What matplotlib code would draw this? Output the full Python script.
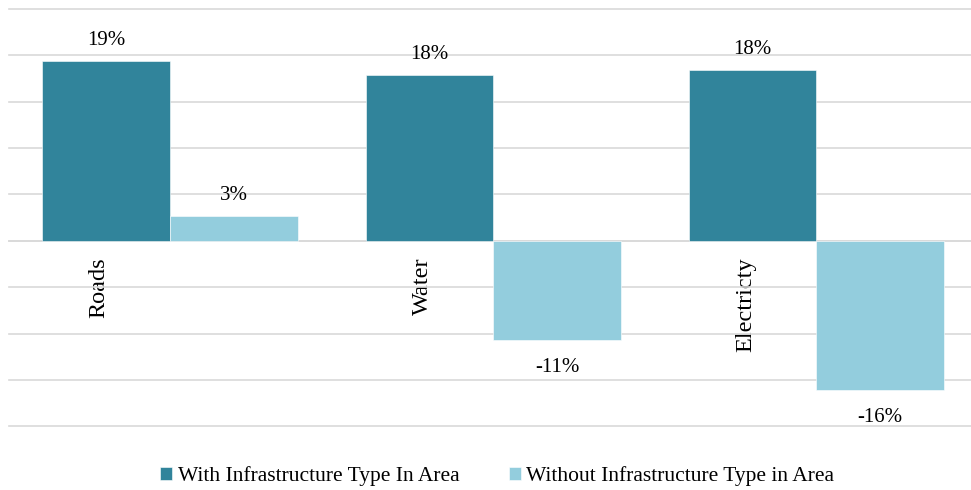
import numpy as np
import matplotlib
matplotlib.use('Agg')
import matplotlib.pyplot as plt

plt.rcParams['font.family'] = ['Liberation Serif', 'DejaVu Serif']

categories = ['Roads', 'Water', 'Electricty']
with_infra = [0.194, 0.179, 0.184]
without_infra = [0.027, -0.107, -0.161]
series_names = ['With Infrastructure Type In Area', 'Without Infrastructure Type in Area']
colors = ['#31849B', '#93CDDD']
yticks = [-0.20, -0.15, -0.10, -0.05, 0.0, 0.05, 0.10, 0.15, 0.20, 0.25]

fig = plt.figure(figsize=(9.71, 4.90), dpi=100)
# plot area runs slightly past the right edge, as in the original crop
ax = fig.add_axes([8.5 / 971, (490 - 426.3) / 490, 969.5 / 971, (426.3 - 9) / 490])

x = np.arange(len(categories))
w = 0.395
b1 = ax.bar(x - w / 2, with_infra, w, color=colors[0], edgecolor='white', linewidth=0.4,
            label=series_names[0], zorder=3)
b2 = ax.bar(x + w / 2, without_infra, w, color=colors[1], edgecolor='white', linewidth=0.4,
            label=series_names[1], zorder=3)

# data labels, a bit further off for the negative ones
for xs, vals in ((x - w / 2, with_infra), (x + w / 2, without_infra)):
    for xi, v in zip(xs, vals):
        if v >= 0:
            ax.annotate('{:.0f}%'.format(v * 100), (xi, v), xytext=(0, 8),
                        textcoords='offset points', ha='center', va='bottom', fontsize=15)
        else:
            ax.annotate('{:.0f}%'.format(v * 100), (xi, v), xytext=(0, -13),
                        textcoords='offset points', ha='center', va='top', fontsize=15)

ax.set_xlim(-0.5, 2.5)
ax.set_ylim(yticks[0], yticks[-1])
ax.set_yticks(yticks)
ax.yaxis.grid(True, color='#d9d9d9', linewidth=1.2)
for gl in ax.get_ygridlines():
    gl.set_clip_on(False)
ax.set_axisbelow(True)
ax.tick_params(axis='y', left=False, labelleft=False)

# category labels hang below the zero line
ax.spines['bottom'].set_position(('data', 0))
ax.spines['bottom'].set_color('#d9d9d9')
ax.spines['bottom'].set_linewidth(1.2)
for s in ('left', 'right', 'top'):
    ax.spines[s].set_visible(False)
ax.set_xticks(x - 0.22, categories, rotation=90, fontsize=17.5, va='top')
ax.tick_params(axis='x', length=0, pad=12)

ax.legend(loc='center', bbox_to_anchor=(0.512, 0.029), bbox_transform=fig.transFigure,
          ncol=2, frameon=False, fontsize=15.5, handlelength=0.55, handleheight=0.55,
          handletextpad=0.25, columnspacing=2.3)

fig.savefig('out.png', dpi=100)
